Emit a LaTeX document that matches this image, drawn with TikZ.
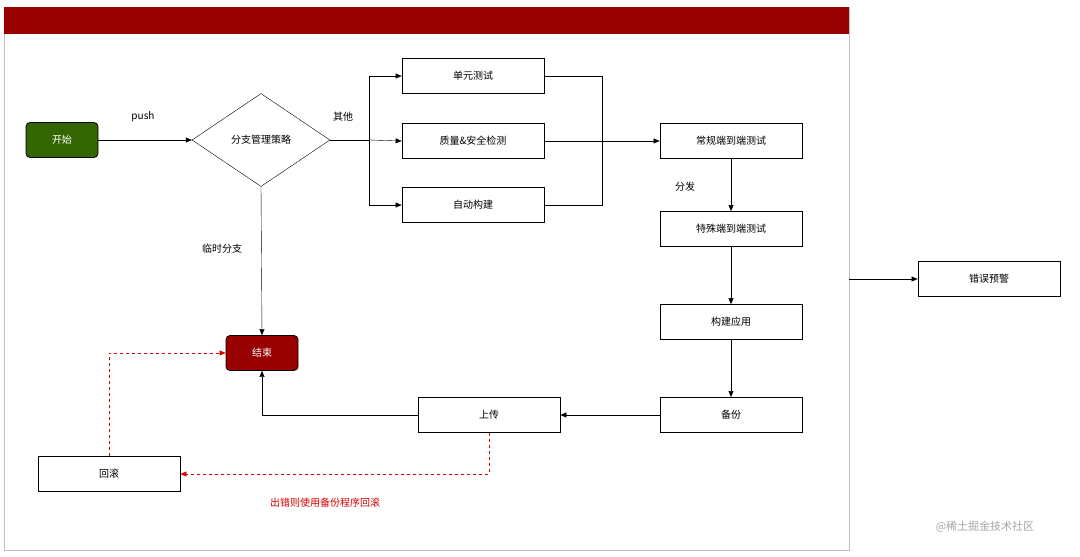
\documentclass[tikz,border=0pt]{standalone}
\usepackage{fontspec}
\setmainfont{Noto Sans CJK SC}
\usetikzlibrary{arrows.meta,shapes.geometric}
\definecolor{dred}{HTML}{990000}
\definecolor{dgreen}{HTML}{336600}
\begin{document}
\begin{tikzpicture}[x=1pt,y=-1pt,font=\fontsize{10}{12}\selectfont,
  box/.style={draw,thick,minimum width=142pt,minimum height=35pt,inner sep=0pt},
  term/.style={draw,thick,rounded corners=4pt,minimum width=72pt,minimum height=35pt,text=white,inner sep=0pt},
  arr/.style={-{Triangle[length=6pt,width=5pt]}},
  rarr/.style={draw=red!85!black,dashed,-{Triangle[length=6pt,width=5pt]}}]
\useasboundingbox (0,0) rectangle (1080,557);
\fill[white] (0,0) rectangle (1080,557);
\draw[gray!50,thick] (4,7) rectangle (849,550);
\fill[dred] (4,7) rectangle (849,34);
\node[term,fill=dgreen] (start) at (62,140) {开始};
\node[draw,diamond,aspect=1.48,minimum width=138pt,minimum height=93pt,inner sep=0pt] (dia) at (261,140) {分支管理策略};
\node[box] (unit) at (473,76) {单元测试};
\node[box] (qa) at (473,141) {质量\&安全检测};
\node[box] (build) at (473,205) {自动构建};
\node[box] (e2e) at (731,141) {常规端到端测试};
\node[box] (spec) at (731,229) {特殊端到端测试};
\node[box] (app) at (731,322) {构建应用};
\node[box] (bak) at (731,415) {备份};
\node[box] (up) at (489,415) {上传};
\node[term,fill=dred] (end) at (262,353) {结束};
\node[box] (rb) at (109,474) {回滚};
\node[box] (warn) at (989,279) {错误预警};
\coordinate (fr) at (849,279);
\coordinate (j1) at (369,140);
\coordinate (j2) at (602,76);
\node (lpush) at (143,117) {push};
\node (lother) at (343,117) {其他};
\node (ltmp) at (222,249) {临时分支};
\node (lfa) at (685,187) {分发};
\node[text=red!85!black] (lerr) at (325,503) {出错则使用备份程序回滚};
\node[text=gray!70] (wm) at (985,527) {\fontsize{11}{13}\selectfont @稀土掘金技术社区};
\draw[arr] (start) -- (dia);
\draw (dia.east) -- (j1);
\draw[arr] (j1) |- (unit.west);
\draw[arr] (j1) -- (qa.west);
\draw[arr] (j1) |- (build.west);
\draw (unit.east) -- (j2) |- (build.east);
\draw[arr] (qa) -- (e2e);
\draw[arr] (e2e) -- (spec);
\draw[arr] (spec) -- (app);
\draw[arr] (app) -- (bak);
\draw[arr] (bak) -- (up);
\draw[arr] (up.west) -| (end.south);
\draw[arr] (dia.south) -- (end.north);
\draw[rarr] (up.south) |- (rb.east);
\draw[rarr] (rb.north) |- (end.west);
\draw[arr] (fr) -- (warn.west);
\end{tikzpicture}
\end{document}
